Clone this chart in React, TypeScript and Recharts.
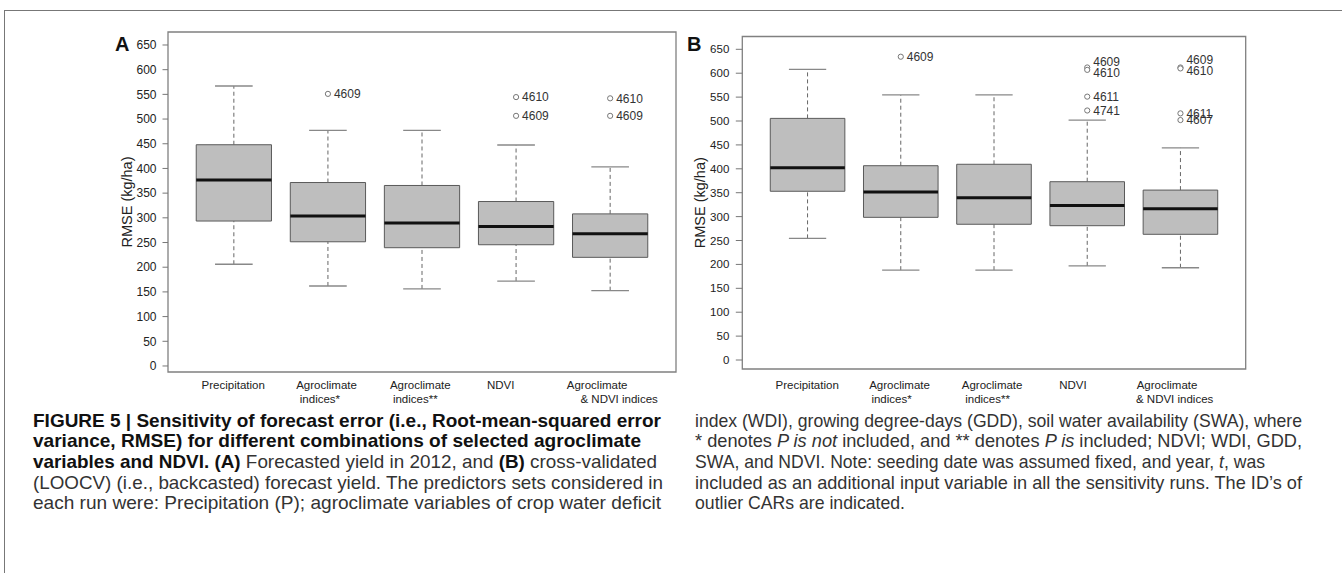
import React from 'react';
import { ComposedChart, XAxis, YAxis, Scatter, ReferenceArea, ReferenceLine } from 'recharts';

// ---------- data ----------
const categoryLines: string[][] = [
  ['Precipitation'],
  ['Agroclimate', 'indices*'],
  ['Agroclimate', 'indices**'],
  ['NDVI'],
  ['Agroclimate', '& NDVI indices'],
];
const categoryX = [1, 2, 3, 4, 5];
const yTicks = [0, 50, 100, 150, 200, 250, 300, 350, 400, 450, 500, 550, 600, 650];

// Panel A: forecasted yield in 2012
const aLowerWhisker = [206, 162, 156, 172, 152.5];
const aQ1 = [293.5, 251.5, 239.5, 245.5, 220];
const aMedian = [376.5, 303.5, 289.5, 282.5, 268];
const aQ3 = [448, 371.5, 365.5, 333, 308];
const aUpperWhisker = [567, 477, 477, 447.5, 403];
const aOutliers = [
  { x: 2, y: 551, labelY: 551, id: '4609' },
  { x: 4, y: 544.5, labelY: 544.5, id: '4610' },
  { x: 4, y: 506.5, labelY: 506.5, id: '4609' },
  { x: 5, y: 542, labelY: 542, id: '4610' },
  { x: 5, y: 506.5, labelY: 506.5, id: '4609' },
];

// Panel B: cross-validated (LOOCV) forecast yield
const bLowerWhisker = [254.5, 188, 188, 197, 193];
const bQ1 = [353, 298.5, 284, 281, 263];
const bMedian = [402, 351.5, 339.5, 323.5, 316.5];
const bQ3 = [505.5, 406.5, 409.5, 373, 355.5];
const bUpperWhisker = [608, 554.5, 554.5, 502, 444];
const bOutliers = [
  { x: 2, y: 634.5, labelY: 634.5, id: '4609' },
  { x: 4, y: 612, labelY: 624, id: '4609' },
  { x: 4, y: 607, labelY: 601, id: '4610' },
  { x: 4, y: 551, labelY: 551, id: '4611' },
  { x: 4, y: 522, labelY: 522, id: '4741' },
  { x: 5, y: 612, labelY: 627.5, id: '4609' },
  { x: 5, y: 610, labelY: 605, id: '4610' },
  { x: 5, y: 516, labelY: 515, id: '4611' },
  { x: 5, y: 502, labelY: 502, id: '4607' },
];

// ---------- style ----------
const FONT = '"Liberation Sans", Arial, Helvetica, sans-serif';
const BOX_HALF = 0.4;
const CAP_HALF = 0.2;
const labelOffsetsA = [[-0.6], [-1.4, -8], [-1.7, -6.7], [-15.4], [-13, 9]];
const labelOffsetsB = [[-0.4], [-1.2, -9.2], [-1.9, -6.4], [-14.3], [-13.4, -5.8]];

const XTick = (props: any) => {
  const { x, y, payload, offsets, dy0 } = props;
  const idx = Math.round(payload.value) - 1;
  const lines = categoryLines[idx] || [];
  return (
    <g>
      {lines.map((t, j) => (
        <text
          key={j}
          x={x + (offsets[idx]?.[j] ?? 0)}
          y={y + dy0 + j * 13.6}
          textAnchor="middle"
          fontSize={11.5}
          fontFamily={FONT}
          fill="#222"
        >
          {t}
        </text>
      ))}
    </g>
  );
};

const OutlierDot = (props: any) => (
  <circle cx={props.cx} cy={props.cy} r={2.6} fill="#fff" stroke="#777" strokeWidth={1} />
);
const OutlierLabel = (props: any) => (
  <text x={props.cx + 6} y={props.cy} dy="0.36em" fontSize={12} fontFamily={FONT} fill="#333">
    {props.payload?.id}
  </text>
);

type PanelCfg = {
  left: number;
  marginLeft: number;
  marginRight: number;
  marginTop: number;
  yAxisWidth: number;
  xAxisHeight: number;
  labelDy: number;
  domain: [number, number];
  tickFont: number;
  tickSize: number;
  tickMargin: number;
  lower: number[];
  q1: number[];
  median: number[];
  q3: number[];
  upper: number[];
  outliers: { x: number; y: number; labelY: number; id: string }[];
  offsets: number[][];
};

const CHART_W = 700;
const CHART_H = 430;

function BoxPanel({ cfg }: { cfg: PanelCfg }) {
  const labelData = cfg.outliers.map((o) => ({ x: o.x, y: o.labelY, id: o.id }));
  return (
    <div style={{ position: 'absolute', left: cfg.left, top: 0 }}>
      <ComposedChart
        width={CHART_W}
        height={CHART_H}
        margin={{ top: cfg.marginTop, right: cfg.marginRight, bottom: 0, left: cfg.marginLeft }}
        style={{ overflow: 'visible' }}
      >
        <XAxis
          type="number"
          dataKey="x"
          domain={[0.3, 5.7]}
          allowDataOverflow
          ticks={categoryX}
          interval={0}
          axisLine={false}
          tickLine={false}
          tickSize={0}
          tickMargin={0}
          height={cfg.xAxisHeight}
          tick={<XTick offsets={cfg.offsets} dy0={cfg.labelDy} />}
        />
        <YAxis
          type="number"
          dataKey="y"
          domain={cfg.domain}
          allowDataOverflow
          ticks={yTicks}
          interval={0}
          width={cfg.yAxisWidth}
          axisLine={false}
          tickLine={{ stroke: '#777', strokeWidth: 1 }}
          tickSize={cfg.tickSize}
          tickMargin={cfg.tickMargin}
          tick={{ fill: '#222', fontSize: cfg.tickFont, fontFamily: FONT }}
          label={{
            value: 'RMSE (kg/ha)',
            angle: -90,
            position: 'center',
            style: { fill: '#222', fontSize: 14.5, fontFamily: FONT },
          }}
        />
        {/* plot frame */}
        <ReferenceArea
          x1={0.3}
          x2={5.7}
          y1={cfg.domain[0]}
          y2={cfg.domain[1]}
          fill="none"
          fillOpacity={0}
          stroke="#808080"
          strokeWidth={1.3}
          ifOverflow="visible"
        />
        {/* whiskers */}
        {categoryX.map((cx, i) => (
          <ReferenceLine
            key={`wu${i}`}
            segment={[{ x: cx, y: cfg.q3[i] }, { x: cx, y: cfg.upper[i] }]}
            stroke="#666"
            strokeWidth={1}
            strokeDasharray="4 3"
          />
        ))}
        {categoryX.map((cx, i) => (
          <ReferenceLine
            key={`wl${i}`}
            segment={[{ x: cx, y: cfg.lower[i] }, { x: cx, y: cfg.q1[i] }]}
            stroke="#666"
            strokeWidth={1}
            strokeDasharray="4 3"
          />
        ))}
        {categoryX.map((cx, i) => (
          <ReferenceLine
            key={`cu${i}`}
            segment={[{ x: cx - CAP_HALF, y: cfg.upper[i] }, { x: cx + CAP_HALF, y: cfg.upper[i] }]}
            stroke="#888"
            strokeWidth={1.3}
          />
        ))}
        {categoryX.map((cx, i) => (
          <ReferenceLine
            key={`cl${i}`}
            segment={[{ x: cx - CAP_HALF, y: cfg.lower[i] }, { x: cx + CAP_HALF, y: cfg.lower[i] }]}
            stroke="#888"
            strokeWidth={1.3}
          />
        ))}
        {/* boxes */}
        {categoryX.map((cx, i) => (
          <ReferenceArea
            key={`b${i}`}
            x1={cx - BOX_HALF}
            x2={cx + BOX_HALF}
            y1={cfg.q1[i]}
            y2={cfg.q3[i]}
            fill="#BEBEBE"
            fillOpacity={1}
            stroke="#5a5a5a"
            strokeWidth={1}
          />
        ))}
        {/* medians */}
        {categoryX.map((cx, i) => (
          <ReferenceLine
            key={`m${i}`}
            segment={[{ x: cx - BOX_HALF, y: cfg.median[i] }, { x: cx + BOX_HALF, y: cfg.median[i] }]}
            stroke="#111"
            strokeWidth={3}
          />
        ))}
        <Scatter data={cfg.outliers} isAnimationActive={false} shape={<OutlierDot />} />
        <Scatter data={labelData} isAnimationActive={false} shape={<OutlierLabel />} />
      </ComposedChart>
    </div>
  );
}

const panelA: PanelCfg = {
  left: 0,
  marginLeft: 86.6,
  marginRight: 24,
  marginTop: 32,
  yAxisWidth: 81.4,
  xAxisHeight: CHART_H - 372,
  labelDy: 17.3,
  domain: [-12.2, 676.3],
  tickFont: 12,
  tickSize: 5.5,
  tickMargin: 6,
  lower: aLowerWhisker,
  q1: aQ1,
  median: aMedian,
  q3: aQ3,
  upper: aUpperWhisker,
  outliers: aOutliers,
  offsets: labelOffsetsA,
};

const panelB: PanelCfg = {
  left: 600,
  marginLeft: 57.7,
  marginRight: 54.3,
  marginTop: 36.5,
  yAxisWidth: 84.6,
  xAxisHeight: CHART_H - 369,
  labelDy: 20.3,
  domain: [-18.8, 676.8],
  tickFont: 11.5,
  tickSize: 6.5,
  tickMargin: 6.5,
  lower: bLowerWhisker,
  q1: bQ1,
  median: bMedian,
  q3: bQ3,
  upper: bUpperWhisker,
  outliers: bOutliers,
  offsets: labelOffsetsB,
};

// ---------- caption ----------
const CAP_FONT = 18.5;
const CAP_BASE = 426.5;
const CAP_STEP = 20.7;
const LEFT_X = 33;
const RIGHT_X = 695;
const BOLD = { fontWeight: 'bold' as const, fill: '#111' };

const CapLine = ({ x, row, width, children }: { x: number; row: number; width: number; children: React.ReactNode }) => (
  <text
    x={x}
    y={CAP_BASE + row * CAP_STEP}
    textLength={width}
    lengthAdjust="spacingAndGlyphs"
    fontSize={CAP_FONT}
    fontFamily={FONT}
    fill="#333"
  >
    {children}
  </text>
);

export default function App() {
  return (
    <div
      style={{
        position: 'absolute',
        left: 0,
        top: 0,
        width: 1342,
        height: 573,
        background: '#fff',
        overflow: 'hidden',
        fontFamily: FONT,
      }}
    >
      <div
        style={{
          position: 'absolute',
          left: 4,
          top: 10,
          width: 1342,
          height: 600,
          borderTop: '1.5px solid #777',
          borderLeft: '1.5px solid #777',
        }}
      />
      <BoxPanel cfg={panelA} />
      <BoxPanel cfg={panelB} />
      <div style={{ position: 'absolute', left: 115, top: 33, fontSize: 20, fontWeight: 'bold', color: '#111', lineHeight: '23px' }}>A</div>
      <div style={{ position: 'absolute', left: 687, top: 33, fontSize: 20, fontWeight: 'bold', color: '#111', lineHeight: '23px' }}>B</div>

      <svg style={{ position: 'absolute', left: 0, top: 0 }} width={1342} height={573}>
        <CapLine x={LEFT_X} row={0} width={628}>
          <tspan {...BOLD}>FIGURE 5 | Sensitivity of forecast error (i.e., Root-mean-squared error</tspan>
        </CapLine>
        <CapLine x={LEFT_X} row={1} width={608}>
          <tspan {...BOLD}>variance, RMSE) for different combinations of selected agroclimate</tspan>
        </CapLine>
        <CapLine x={LEFT_X} row={2} width={624}>
          <tspan {...BOLD}>variables and NDVI. (A)</tspan> Forecasted yield in 2012, and <tspan {...BOLD}>(B)</tspan> cross-validated
        </CapLine>
        <CapLine x={LEFT_X} row={3} width={630}>
          (LOOCV) (i.e., backcasted) forecast yield. The predictors sets considered in
        </CapLine>
        <CapLine x={LEFT_X} row={4} width={628}>
          each run were: Precipitation (P); agroclimate variables of crop water deficit
        </CapLine>

        <CapLine x={RIGHT_X} row={0} width={607}>
          index (WDI), growing degree-days (GDD), soil water availability (SWA), where
        </CapLine>
        <CapLine x={RIGHT_X} row={1} width={607}>
          * denotes <tspan fontStyle="italic">P is not</tspan> included, and ** denotes <tspan fontStyle="italic">P is</tspan> included; NDVI; WDI, GDD,
        </CapLine>
        <CapLine x={RIGHT_X} row={2} width={570}>
          SWA, and NDVI. Note: seeding date was assumed fixed, and year, <tspan fontStyle="italic">t</tspan>, was
        </CapLine>
        <CapLine x={RIGHT_X} row={3} width={607}>
          included as an additional input variable in all the sensitivity runs. The ID’s of
        </CapLine>
        <CapLine x={RIGHT_X} row={4} width={210}>
          outlier CARs are indicated.
        </CapLine>
      </svg>
    </div>
  );
}
